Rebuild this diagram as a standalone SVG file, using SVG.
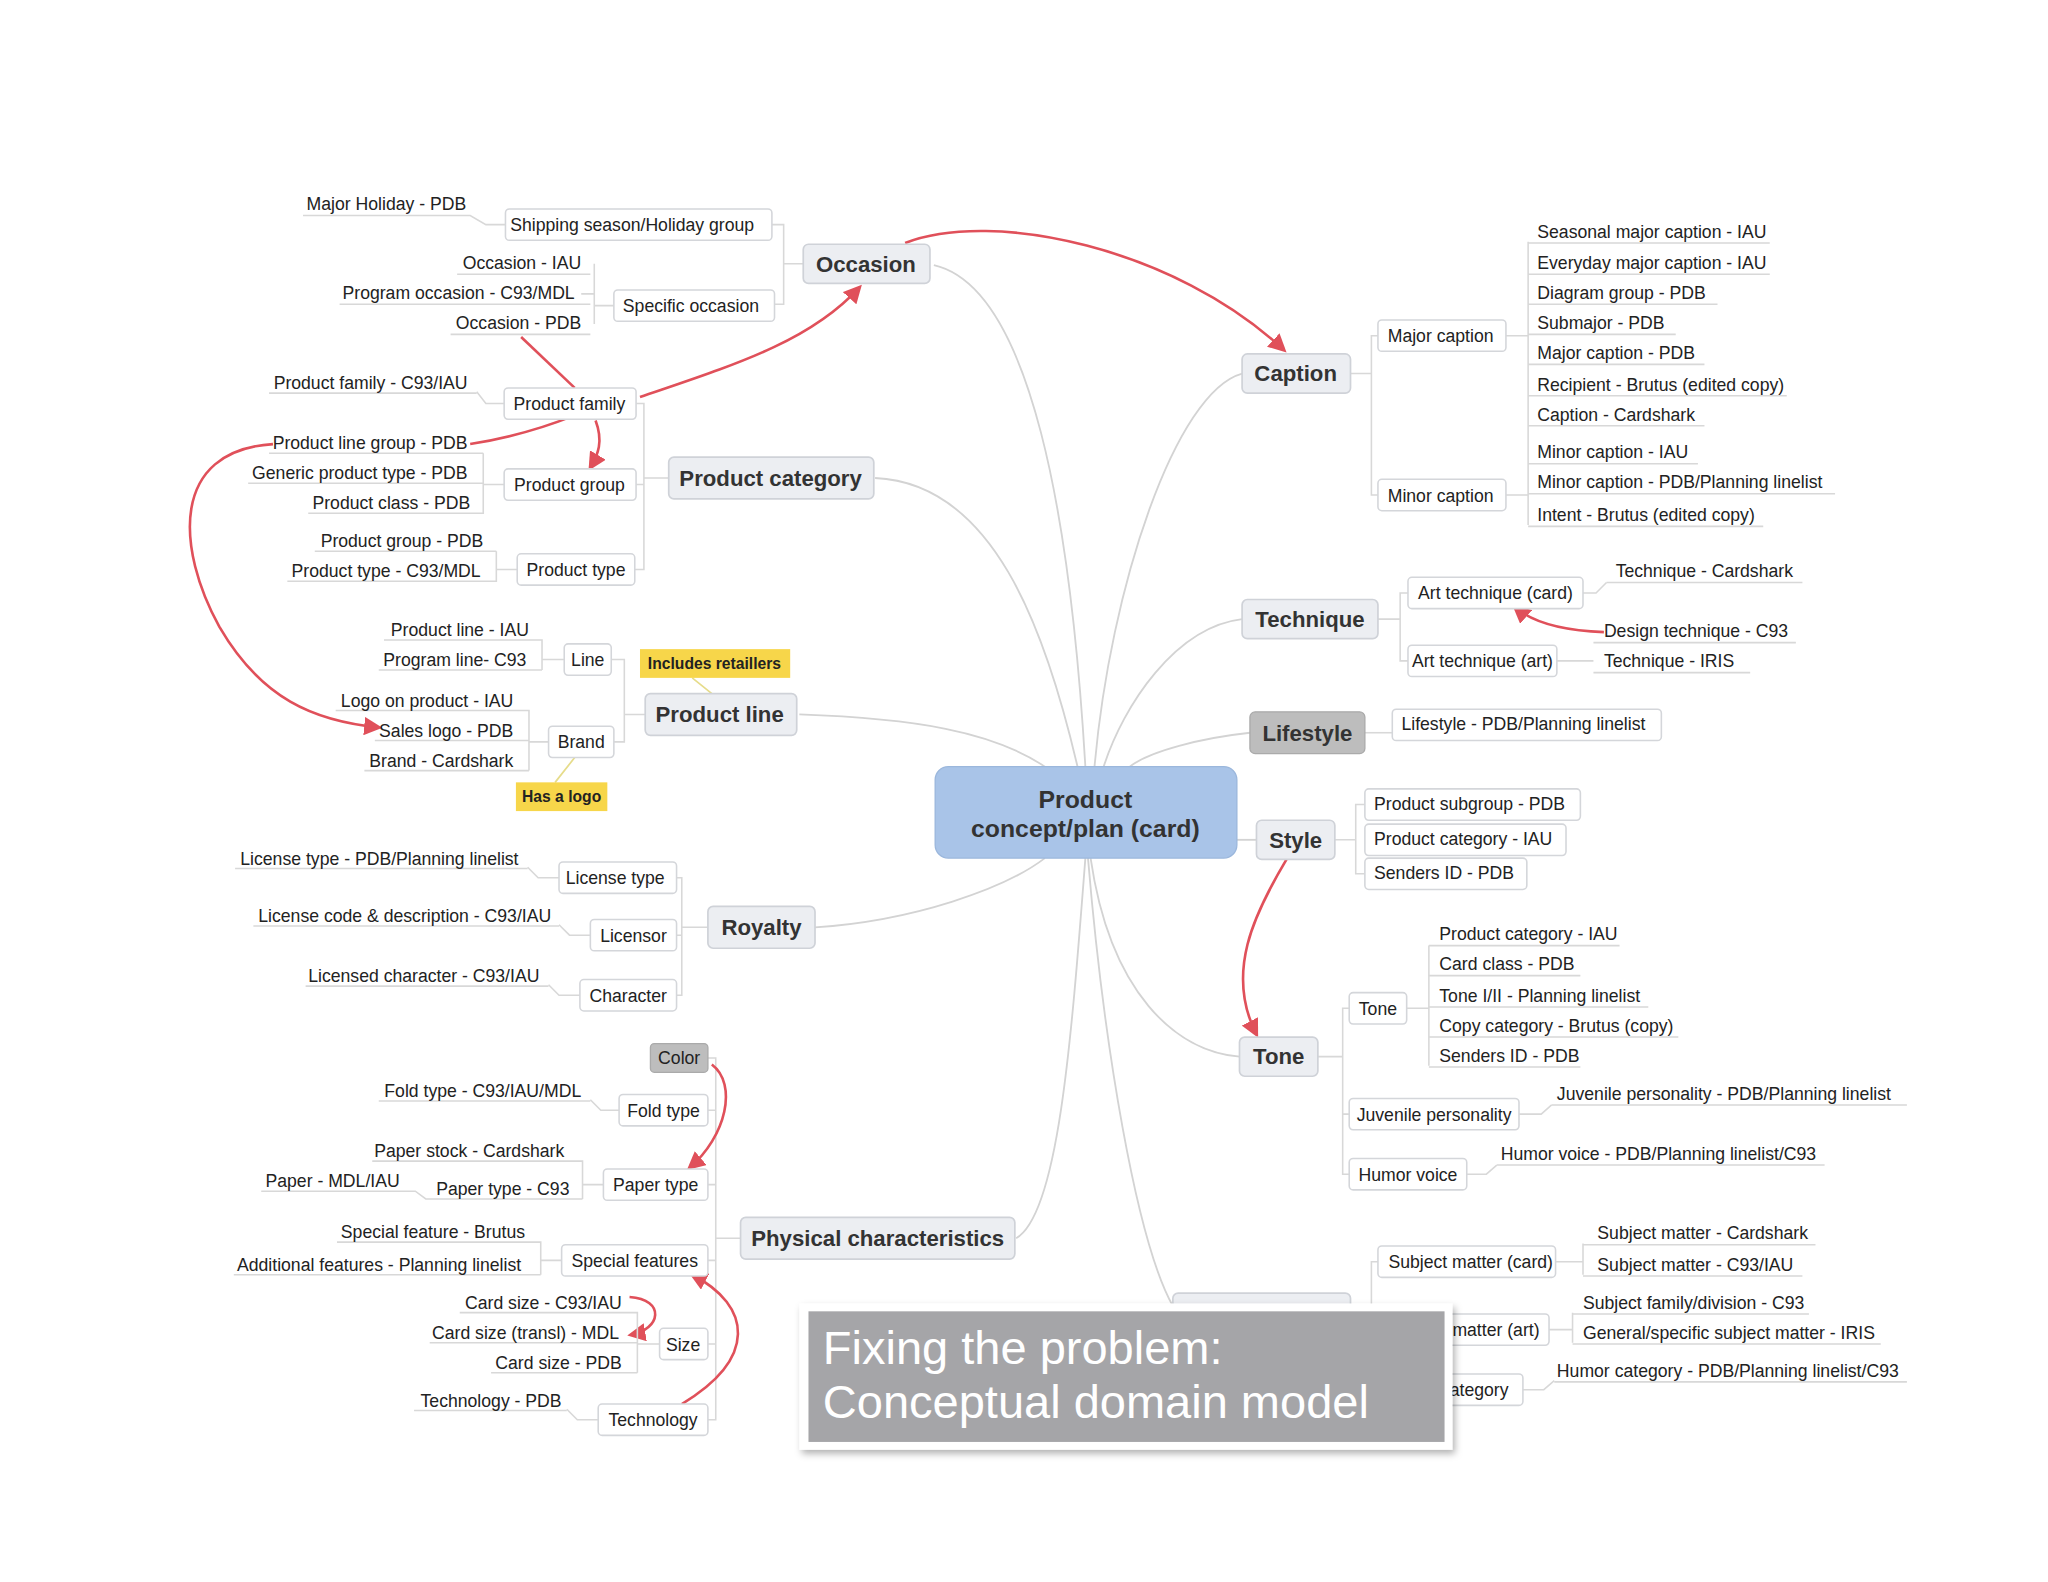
<svg xmlns="http://www.w3.org/2000/svg" width="2048" height="1582" viewBox="0 0 2048 1582">
<defs>
<marker id="ah" viewBox="0 0 10 10" refX="8" refY="5" markerWidth="7" markerHeight="7" orient="auto"><path d="M0,0 L10,5 L0,10 z" fill="#e0505a"/></marker>
<filter id="sh" x="-5%" y="-5%" width="110%" height="115%"><feDropShadow dx="2" dy="3" stdDeviation="3" flood-color="#000" flood-opacity="0.3"/></filter>
</defs>
<style>
text{font-family:"Liberation Sans",Arial,sans-serif;fill:#222}
.l{font-size:13.5px}
.e{text-anchor:end}
.m{text-anchor:middle}
.t{font-size:17px;font-weight:bold;text-anchor:middle;fill:#333}
.b{fill:#fff;stroke:#d4d6da;stroke-width:1.2}
.tp{fill:#eceef2;stroke:#cfd2d8;stroke-width:1.3}
.g{fill:#bdbdbd;stroke:#aaa;stroke-width:1}
.u{stroke:#d8d8d8;stroke-width:1.2;fill:none}
.c{stroke:#d3d3d3;stroke-width:1.4;fill:none}
.r{stroke:#e0505a;stroke-width:2;fill:none}
.y{fill:#f7d64a}
.yt{font-size:12px;font-weight:bold;text-anchor:middle}
</style>
<rect width="2048" height="1582" fill="#fff"/>
<g transform="scale(1.3061)">
<g id="connectors">
<path class="c" d="M715,203 C790,220 820,400 831,587"/>
<path class="c" d="M670,366 C760,370 800,480 825,587"/>
<path class="c" d="M612,547 C700,550 760,560 800,587"/>
<path class="c" d="M624,710 C700,705 770,680 800,657"/>
<path class="c" d="M778,948 C810,930 820,800 831,657"/>
<path class="c" d="M951,286 C900,300 850,450 838,587"/>
<path class="c" d="M951,474 C900,480 860,540 845,587"/>
<path class="c" d="M957,561 C920,565 880,575 865,587"/>
<path class="c" d="M947,643 L962,643"/>
<path class="c" d="M949,809 C900,805 850,760 835,657"/>
<path class="c" d="M898,1000 C870,950 845,800 833,657"/>
<path class="u" d="M615,202 H600 M591,172 H600 V233 H593 M470,234 H455 V202 M455,248 V225 H445"/>
<path class="u" d="M512,366 H493 M487,309 H493 V436 H486 M487,371 H493 M386,371 H370 M386,309 H372 L365,300 M396,436 H380"/>
<path class="u" d="M494,547 H478 M468,505 H478 V568 H470 M432,505 H415 M420,568 H405"/>
<path class="u" d="M542,710 H522 M518,672 H522 V762 H518 M518,716 H522 M428,672 H412 L404,664 M452,716 H436 L428,708 M444,762 H428 L420,754"/>
<path class="u" d="M567,948 H548 M542,810 H548 V1087 H542 M542,850 H548 M542,907 H548 M542,965 H548 M542,1029 H548 M474,850 H460 L452,842 M462,907 H446 M430,965 H414 M505,1029 H488 M458,1087 H442 L434,1079"/>
<path class="u" d="M1034,286 H1050 M1055,257 H1050 V379 H1055 M1153,257 H1170 M1170,185 V402 M1153,379 H1170"/>
<path class="u" d="M1055,474 H1072 M1078,454 H1072 V506 H1078 M1212,454 H1222 L1230,446 M1192,506 H1220"/>
<path class="u" d="M1045,561 H1066"/>
<path class="u" d="M1022,643 H1038 M1045,616 H1038 V669 H1045"/>
<path class="u" d="M1009,809 H1028 M1033,772 H1028 V899 H1033 M1033,853 H1028 M1077,772 H1094 M1094,724 V816 M1163,853 H1180 L1188,846 M1123,899 H1138 L1146,892"/>
<path class="u" d="M1036,1010 H1050 M1055,966 H1050 V1064 H1090 M1191,966 H1212 M1212,952 V976 M1186,1018 H1204 M1204,1005 V1028 M1166,1064 H1182 L1190,1057"/>
<path class="r" d="M693,186 C760,160 900,190 983,268" marker-end="url(#ah)"/>
<path class="r" d="M490,304 C560,280 620,262 658,220" marker-end="url(#ah)"/>
<path class="r" d="M399,258 L440,297"/>
<path class="r" d="M456,322 C462,338 458,348 452,358" marker-end="url(#ah)"/>
<path class="r" d="M440,318 C410,330 385,336 360,340"/>
<path class="r" d="M209,340 C130,345 135,420 168,480 C200,535 240,552 290,557" marker-end="url(#ah)"/>
<path class="r" d="M1228,484 C1200,483 1175,478 1160,465" marker-end="url(#ah)"/>
<path class="r" d="M985,658 C960,700 938,745 962,792" marker-end="url(#ah)"/>
<path class="r" d="M545,815 C565,830 556,870 528,894" marker-end="url(#ah)"/>
<path class="r" d="M482,993 C510,995 506,1018 483,1022" marker-end="url(#ah)"/>
<path class="r" d="M522,1075 C580,1040 576,1000 530,976" marker-end="url(#ah)"/>
<path d="M530,519 L545,531 M440,580 L425,599" stroke="#e6dc8a" stroke-width="1.3"/>
</g>

<g id="center"><rect x="716" y="587" width="231" height="70" rx="10" fill="#a9c4e8" stroke="#9bb7dc"/>
<text class="t" x="831" y="619" style="font-size:19px">Product</text><text class="t" x="831" y="641" style="font-size:19px">concept/plan (card)</text></g>

<g id="occasion"><rect class="tp" x="615" y="187" width="97" height="30" rx="4"/><text class="t" x="663" y="208">Occasion</text>
<rect class="b" x="387" y="160" width="204" height="24" rx="3"/><text class="l m" x="484" y="177">Shipping season/Holiday group</text>
<rect class="b" x="470" y="222" width="123" height="24" rx="3"/><text class="l m" x="529" y="239">Specific occasion</text>
<path class="u" d="M232,165 H360 L372,172 H387"/><text class="l e" x="357" y="161">Major Holiday - PDB</text>
<path class="u" d="M350,210 H452"/><text class="l e" x="445" y="206">Occasion - IAU</text>
<path class="u" d="M260,233 H452"/><text class="l e" x="440" y="229">Program occasion - C93/MDL</text>
<path class="u" d="M345,256 H452"/><text class="l e" x="445" y="252">Occasion - PDB</text></g>

<g id="productcategory"><rect class="tp" x="512" y="350" width="157" height="32" rx="4"/><text class="t" x="590" y="372">Product category</text>
<rect class="b" x="386" y="297" width="101" height="24" rx="3"/><text class="l m" x="436" y="314">Product family</text>
<rect class="b" x="386" y="359" width="101" height="24" rx="3"/><text class="l m" x="436" y="376">Product group</text>
<rect class="b" x="396" y="424" width="90" height="24" rx="3"/><text class="l m" x="441" y="441">Product type</text>
<path class="u" d="M206,301 H365"/><text class="l e" x="358" y="298">Product family - C93/IAU</text>
<path class="u" d="M206,347 H370"/><text class="l e" x="358" y="344">Product line group - PDB</text>
<path class="u" d="M190,370 H370"/><text class="l e" x="358" y="367">Generic product type - PDB</text>
<path class="u" d="M236,393 H370 V347"/><text class="l e" x="360" y="390">Product class - PDB</text>
<path class="u" d="M241,422 H380"/><text class="l e" x="370" y="419">Product group - PDB</text>
<path class="u" d="M220,445 H380 V422"/><text class="l e" x="368" y="442">Product type - C93/MDL</text></g>

<g id="productline"><rect class="tp" x="494" y="531" width="116" height="32" rx="4"/><text class="t" x="551" y="553">Product line</text>
<rect class="b" x="432" y="493" width="36" height="24" rx="3"/><text class="l m" x="450" y="510">Line</text>
<rect class="b" x="420" y="556" width="50" height="24" rx="3"/><text class="l m" x="445" y="573">Brand</text>
<path class="u" d="M294,490 H415 V513"/><text class="l e" x="405" y="487">Product line - IAU</text>
<path class="u" d="M290,513 H415"/><text class="l e" x="403" y="510">Program line- C93</text>
<path class="u" d="M257,544 H405 V590"/><text class="l e" x="393" y="541">Logo on product - IAU</text>
<path class="u" d="M287,567 H405"/><text class="l e" x="393" y="564">Sales logo - PDB</text>
<path class="u" d="M279,590 H405"/><text class="l e" x="393" y="587">Brand - Cardshark</text>
<rect class="y" x="490" y="497" width="115" height="22"/><text class="yt" x="547" y="512">Includes retaillers</text>
<rect class="y" x="395" y="599" width="70" height="22"/><text class="yt" x="430" y="614">Has a logo</text></g>

<g id="royalty"><rect class="tp" x="542" y="694" width="82" height="32" rx="4"/><text class="t" x="583" y="716">Royalty</text>
<rect class="b" x="428" y="660" width="90" height="24" rx="3"/><text class="l m" x="471" y="677">License type</text>
<rect class="b" x="452" y="704" width="66" height="24" rx="3"/><text class="l m" x="485" y="721">Licensor</text>
<rect class="b" x="444" y="750" width="74" height="24" rx="3"/><text class="l m" x="481" y="767">Character</text>
<path class="u" d="M180,665 H404"/><text class="l e" x="397" y="662">License type - PDB/Planning linelist</text>
<path class="u" d="M194,709 H428"/><text class="l e" x="422" y="706">License code &amp; description - C93/IAU</text>
<path class="u" d="M234,755 H420"/><text class="l e" x="413" y="752">Licensed character - C93/IAU</text></g>

<g id="physical"><rect class="tp" x="567" y="932" width="210" height="32" rx="4"/><text class="t" x="672" y="954">Physical characteristics</text>
<rect class="g" x="498" y="799" width="44" height="22" rx="3"/><text class="l m" x="520" y="815">Color</text>
<rect class="b" x="474" y="838" width="68" height="24" rx="3"/><text class="l m" x="508" y="855">Fold type</text>
<rect class="b" x="462" y="895" width="80" height="24" rx="3"/><text class="l m" x="502" y="912">Paper type</text>
<rect class="b" x="430" y="953" width="112" height="24" rx="3"/><text class="l m" x="486" y="970">Special features</text>
<rect class="b" x="505" y="1017" width="37" height="24" rx="3"/><text class="l m" x="523" y="1034">Size</text>
<rect class="b" x="458" y="1075" width="84" height="24" rx="3"/><text class="l m" x="500" y="1092">Technology</text>
<path class="u" d="M290,843 H452"/><text class="l e" x="445" y="840">Fold type - C93/IAU/MDL</text>
<path class="u" d="M285,889 H446 V918"/><text class="l e" x="432" y="886">Paper stock - Cardshark</text>
<path class="u" d="M200,912 H318 L326,918 H446"/><text class="l e" x="306" y="909">Paper - MDL/IAU</text>
<text class="l e" x="436" y="915">Paper type - C93</text>
<path class="u" d="M258,951 H414 V976"/><text class="l e" x="402" y="948">Special feature - Brutus</text>
<path class="u" d="M179,976 H414"/><text class="l e" x="399" y="973">Additional features - Planning linelist</text>
<path class="u" d="M352,1005 H488 V1051"/><text class="l e" x="476" y="1002">Card size - C93/IAU</text>
<path class="u" d="M329,1028 H488"/><text class="l e" x="474" y="1025">Card size (transl) - MDL</text>
<path class="u" d="M376,1051 H488"/><text class="l e" x="476" y="1048">Card size - PDB</text>
<path class="u" d="M317,1080 H434"/><text class="l e" x="430" y="1077">Technology - PDB</text></g>

<g id="caption"><rect class="tp" x="951" y="271" width="83" height="30" rx="4"/><text class="t" x="992" y="292">Caption</text>
<rect class="b" x="1055" y="245" width="98" height="24" rx="3"/><text class="l m" x="1103" y="262">Major caption</text>
<rect class="b" x="1055" y="367" width="98" height="24" rx="3"/><text class="l m" x="1103" y="384">Minor caption</text>
<path class="u" d="M1170,186 H1355 M1170,210 H1355 M1170,233 H1315 M1170,256 H1283 M1170,279 H1305 M1170,303 H1368 M1170,326 H1305 M1170,355 H1300 M1170,378 H1405 M1170,403 H1350"/>
<text class="l" x="1177" y="182">Seasonal major caption - IAU</text>
<text class="l" x="1177" y="206">Everyday major caption - IAU</text>
<text class="l" x="1177" y="229">Diagram group - PDB</text>
<text class="l" x="1177" y="252">Submajor - PDB</text>
<text class="l" x="1177" y="275">Major caption - PDB</text>
<text class="l" x="1177" y="299">Recipient - Brutus (edited copy)</text>
<text class="l" x="1177" y="322">Caption - Cardshark</text>
<text class="l" x="1177" y="351">Minor caption - IAU</text>
<text class="l" x="1177" y="374">Minor caption - PDB/Planning linelist</text>
<text class="l" x="1177" y="399">Intent - Brutus (edited copy)</text></g>

<g id="technique"><rect class="tp" x="951" y="459" width="104" height="30" rx="4"/><text class="t" x="1003" y="480">Technique</text>
<rect class="b" x="1078" y="442" width="134" height="24" rx="3"/><text class="l m" x="1145" y="459">Art technique (card)</text>
<rect class="b" x="1078" y="494" width="114" height="24" rx="3"/><text class="l m" x="1135" y="511">Art technique (art)</text>
<path class="u" d="M1230,446 H1380 M1220,492 H1375 M1220,515 H1340"/>
<text class="l" x="1237" y="442">Technique - Cardshark</text>
<text class="l" x="1228" y="488">Design technique - C93</text>
<text class="l" x="1228" y="511">Technique - IRIS</text></g>

<g id="lifestyle"><rect class="g" x="957" y="545" width="88" height="32" rx="4"/><text class="t" x="1001" y="567">Lifestyle</text>
<rect class="b" x="1066" y="543" width="206" height="24" rx="3"/><text class="l" x="1073" y="559">Lifestyle - PDB/Planning linelist</text></g>

<g id="style"><rect class="tp" x="962" y="628" width="60" height="30" rx="4"/><text class="t" x="992" y="649">Style</text>
<rect class="b" x="1045" y="604" width="165" height="24" rx="3"/><text class="l" x="1052" y="620">Product subgroup - PDB</text>
<rect class="b" x="1045" y="631" width="154" height="24" rx="3"/><text class="l" x="1052" y="647">Product category - IAU</text>
<rect class="b" x="1045" y="657" width="124" height="24" rx="3"/><text class="l" x="1052" y="673">Senders ID - PDB</text></g>

<g id="tone"><rect class="tp" x="949" y="794" width="60" height="30" rx="4"/><text class="t" x="979" y="815">Tone</text>
<rect class="b" x="1033" y="760" width="44" height="24" rx="3"/><text class="l m" x="1055" y="777">Tone</text>
<rect class="b" x="1033" y="841" width="130" height="24" rx="3"/><text class="l m" x="1098" y="858">Juvenile personality</text>
<rect class="b" x="1033" y="887" width="90" height="24" rx="3"/><text class="l m" x="1078" y="904">Humor voice</text>
<path class="u" d="M1094,724 H1240 M1094,747 H1210 M1094,771 H1262 M1094,794 H1285 M1094,817 H1210 M1188,846 H1460 M1146,892 H1397"/>
<text class="l" x="1102" y="720">Product category - IAU</text>
<text class="l" x="1102" y="743">Card class - PDB</text>
<text class="l" x="1102" y="767">Tone I/II - Planning linelist</text>
<text class="l" x="1102" y="790">Copy category - Brutus (copy)</text>
<text class="l" x="1102" y="813">Senders ID - PDB</text>
<text class="l" x="1192" y="842">Juvenile personality - PDB/Planning linelist</text>
<text class="l" x="1149" y="888">Humor voice - PDB/Planning linelist/C93</text></g>

<g id="subject"><rect class="tp" x="898" y="990" width="136" height="32" rx="4"/>
<rect class="b" x="1060" y="1006" width="126" height="24" rx="3"/><text class="l" x="1112" y="1023">matter (art)</text>
<rect class="b" x="1055" y="954" width="136" height="24" rx="3"/><text class="l m" x="1126" y="971">Subject matter (card)</text>
<rect class="b" x="1070" y="1052" width="96" height="24" rx="3"/><text class="l" x="1110" y="1069">ategory</text>
<path class="u" d="M1212,953 H1390 M1212,977 H1380 M1204,1006 H1385 M1204,1029 H1440 M1190,1058 H1460"/>
<text class="l" x="1223" y="949">Subject matter - Cardshark</text>
<text class="l" x="1223" y="973">Subject matter - C93/IAU</text>
<text class="l" x="1212" y="1002">Subject family/division - C93</text>
<text class="l" x="1212" y="1025">General/specific subject matter - IRIS</text>
<text class="l" x="1192" y="1054">Humor category - PDB/Planning linelist/C93</text></g>

<g id="title"><rect x="612" y="998" width="500" height="112" fill="#fff" filter="url(#sh)"/>
<rect x="619" y="1004" width="487" height="100" fill="#a5a5a8"/>
<text x="630" y="1044" style="font-size:36px;fill:#fff">Fixing the problem:</text>
<text x="630" y="1086" style="font-size:36px;fill:#fff">Conceptual domain model</text></g>
</g>
</svg>
